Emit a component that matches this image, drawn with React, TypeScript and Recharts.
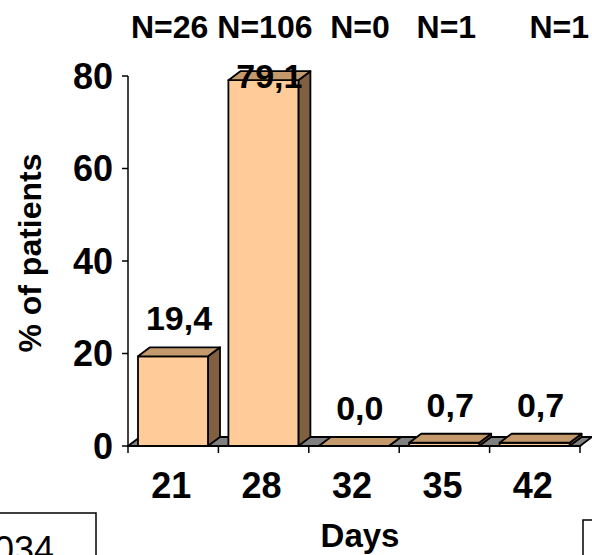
import React from "react";
import { BarChart, Bar, XAxis, YAxis, LabelList, ReferenceArea, Label } from "recharts";

// Share of patients by day, with the number of patients per day
const days = ["21", "28", "32", "35", "42"];
const percents = [19.4, 79.1, 0.0, 0.7, 0.7];
const counts = [26, 106, 0, 1, 1];
const yTicks = [0, 20, 40, 60, 80];
// spaces typed between the N= labels in the original header line
const countGaps = [1, 2, 3, 6, 0];

const data = days.map((d, i) => ({ day: d, pct: percents[i] }));

const FONT = '"Liberation Sans", Arial, Helvetica, sans-serif';
const DX = 12; // 3d depth
const DY = 9;
const FRONT = "#FFCC99";
const TOP = "#C49A6C";
const SIDE = "#806040";
const FLOOR = "#808080";

/** 3d box drawn on top of a bar's rectangle */
function Bar3D(props: any) {
  const { x, y, width, height } = props;
  const h = Math.max(height || 0, 0);
  const top = `M${x},${y} L${x + DX},${y - DY} L${x + width + DX},${y - DY} L${x + width},${y} Z`;
  const side = `M${x + width},${y} L${x + width + DX},${y - DY} L${x + width + DX},${y + h - DY} L${x + width},${y + h} Z`;
  return (
    <g stroke="#000" strokeWidth={1.8} strokeLinejoin="round">
      <path d={side} fill={SIDE} />
      {h > 0 && <rect x={x} y={y} width={width} height={h} fill={FRONT} />}
      <path d={top} fill={TOP} />
    </g>
  );
}

/** gray floor under the bars */
function Floor(props: any) {
  const { x, y, width, height } = props;
  const b = y + height;
  const d = `M${x},${b} L${x + DX},${b - DY} L${x + width + DX},${b - DY} L${x + width},${b} Z`;
  return <path d={d} fill={FLOOR} stroke="#000" strokeWidth={1.8} strokeLinejoin="round" />;
}

function ValueLabel(props: any) {
  const vb = props.viewBox || props;
  const x = vb.x ?? props.x;
  const y = vb.y ?? props.y;
  const width = vb.width ?? props.width;
  const v = Number(props.value);
  const by = Math.max(y - 26, 88);
  return (
    <text x={x + width / 2 + 6} y={by} textAnchor="middle" fontFamily={FONT} fontWeight="bold" fontSize={34} fill="#000">
      {v.toFixed(1).replace(".", ",")}
    </text>
  );
}

function DayTick(props: any) {
  const { x, y, payload, index, visibleTicksCount } = props;
  const half = payload && payload.offset ? payload.offset : 45.2;
  return (
    <g>
      <line x1={x - half} x2={x - half} y1={y} y2={y + 7} stroke="#000" strokeWidth={1.5} />
      {index === visibleTicksCount - 1 && (
        <line x1={x + half} x2={x + half} y1={y} y2={y + 7} stroke="#000" strokeWidth={1.5} />
      )}
      <text x={x - 2} y={y + 52} textAnchor="middle" fontFamily={FONT} fontWeight="bold" fontSize={36} fill="#000">
        {payload.value}
      </text>
    </g>
  );
}

export default function App() {
  const header = counts.map((n, i) => `N=${n}` + " ".repeat(countGaps[i])).join("");

  return (
    <div style={{ position: "absolute", left: 0, top: 0, width: 592, height: 555, overflow: "hidden", background: "#fff" }}>
      <BarChart
        width={592}
        height={555}
        data={data}
        margin={{ top: 76, right: 12, bottom: 0, left: 0 }}
      >
        <ReferenceArea y1={0} y2={0.01} shape={Floor} ifOverflow="visible" />
        <XAxis
          dataKey="day"
          axisLine={false}
          tickLine={false}
          tickSize={0}
          tickMargin={0}
          height={109}
          interval={0}
          tick={<DayTick />}
        >
          <Label
            content={(p: any) => {
              const vb = p.viewBox;
              return (
                <text x={vb.x + vb.width / 2 + 6} y={vb.y + 101} textAnchor="middle" fontFamily={FONT} fontWeight="bold" fontSize={33} fill="#000">
                  Days
                </text>
              );
            }}
          />
        </XAxis>
        <YAxis
          domain={[0, 80]}
          ticks={yTicks}
          width={128}
          tickSize={6}
          tickMargin={9}
          axisLine={{ stroke: "#000", strokeWidth: 1.5 }}
          tickLine={{ stroke: "#000", strokeWidth: 1.5 }}
          tick={{ fill: "#000", fontSize: 36, fontWeight: "bold", fontFamily: FONT }}
        >
          <Label
            content={(p: any) => {
              const vb = p.viewBox;
              const cx = vb.x + 30;
              const cy = vb.y + vb.height / 2 - 8;
              return (
                <text x={cx} y={cy} transform={`rotate(-90, ${cx}, ${cy})`} textAnchor="middle" dominantBaseline="central" fontFamily={FONT} fontWeight="bold" fontSize={32} fill="#000">
                  % of patients
                </text>
              );
            }}
          />
        </YAxis>
        <Bar dataKey="pct" barSize={70} shape={<Bar3D />} isAnimationActive={false}>
          <LabelList dataKey="pct" content={<ValueLabel />} />
        </Bar>
      </BarChart>

      <svg width={592} height={555} style={{ position: "absolute", left: 0, top: 0, pointerEvents: "none" }}>
        <text x={131} y={38} fontFamily={FONT} fontWeight="bold" fontSize={32} fill="#000" style={{ whiteSpace: "pre" }}>
          {header}
        </text>
        <rect x={-2} y={513} width={98} height={60} fill="none" stroke="#000" strokeWidth={1.5} />
        <text x={-6} y={562} fontFamily={FONT} fontSize={36} fill="#000">034</text>
        <rect x={583} y={520} width={20} height={60} fill="none" stroke="#000" strokeWidth={1.5} />
      </svg>
    </div>
  );
}
